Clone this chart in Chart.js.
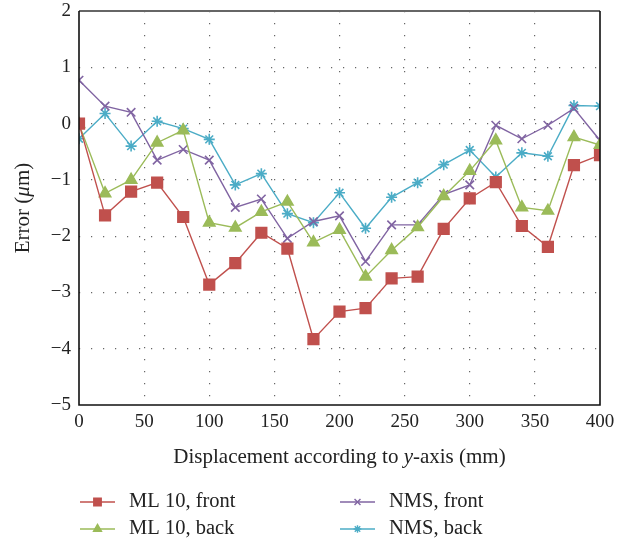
<!DOCTYPE html>
<html>
<head>
<meta charset="utf-8">
<script src="https://cdn.jsdelivr.net/npm/chart.js@4"></script>
<style>
  body { margin: 0; background: #fff; }
  #wrap { width: 631px; height: 544px; }
</style>
</head>
<body>
<div id="wrap"><canvas id="chart" width="631" height="544"></canvas></div>
<script>
// x positions (mm)
const displacement = [0, 20, 40, 60, 80, 100, 120, 140, 160, 180, 200, 220, 240, 260, 280, 300, 320, 340, 360, 380, 400];

// errors (um)
const ml10Front = [0, -1.63, -1.21, -1.05, -1.66, -2.86, -2.48, -1.94, -2.22, -3.83, -3.34, -3.28, -2.75, -2.72, -1.87, -1.33, -1.04, -1.82, -2.19, -0.74, -0.56];
const ml10Back = [-0.01, -1.24, -1.0, -0.34, -0.12, -1.76, -1.85, -1.57, -1.39, -2.11, -1.89, -2.72, -2.25, -1.84, -1.29, -0.84, -0.3, -1.49, -1.55, -0.24, -0.38];
const nmsFront = [0.77, 0.31, 0.2, -0.65, -0.46, -0.65, -1.49, -1.34, -2.04, -1.74, -1.64, -2.45, -1.8, -1.8, -1.26, -1.09, -0.03, -0.27, -0.03, 0.27, -0.3];
const nmsBack = [-0.27, 0.18, -0.4, 0.04, -0.09, -0.28, -1.09, -0.89, -1.6, -1.76, -1.23, -1.86, -1.31, -1.05, -0.73, -0.47, -0.95, -0.52, -0.58, 0.32, 0.31];

const xTicks = [0, 50, 100, 150, 200, 250, 300, 350, 400];
const yTicks = [-5, -4, -3, -2, -1, 0, 1, 2];

const FONT = '"Liberation Serif", "DejaVu Serif", serif';

const series = [
  { label: 'ML 10, front', data: ml10Front, color: '#c0504d', style: 'rect', radius: 7.5 },
  { label: 'ML 10, back', data: ml10Back, color: '#9bbb59', style: 'triangle', radius: 6.5 },
  { label: 'NMS, front', data: nmsFront, color: '#8064a2', style: 'crossRot', radius: 6 },
  { label: 'NMS, back', data: nmsBack, color: '#4bacc6', style: 'star', radius: 5.5 }
];

const datasets = series.map(s => ({
  label: s.label,
  data: displacement.map((x, i) => ({ x: x, y: s.data[i] })),
  borderColor: s.color,
  backgroundColor: s.color,
  borderWidth: 1.4,
  pointStyle: s.style,
  pointRadius: s.radius,
  pointBorderWidth: 1.6,
  pointBackgroundColor: s.color,
  pointBorderColor: s.color,
  tension: 0
}));

// frame, axis titles and legend
const decorations = {
  id: 'decorations',
  afterDraw(chart) {
    const ctx = chart.ctx;
    const a = chart.chartArea;
    ctx.save();

    // frame
    ctx.lineWidth = 2;
    ctx.strokeStyle = '#666';
    ctx.beginPath();
    ctx.moveTo(a.left, a.top);
    ctx.lineTo(a.right, a.top);
    ctx.stroke();
    ctx.strokeStyle = '#111';
    ctx.lineWidth = 1.6;
    ctx.beginPath();
    ctx.moveTo(a.right, a.top);
    ctx.lineTo(a.right, a.bottom);
    ctx.lineTo(a.left, a.bottom);
    ctx.lineTo(a.left, a.top);
    ctx.stroke();

    ctx.fillStyle = '#222';
    ctx.textBaseline = 'middle';

    // x title with italic y
    const parts = [
      { t: 'Displacement according to ', f: '21px ' + FONT },
      { t: 'y', f: 'italic 21px ' + FONT },
      { t: '-axis (mm)', f: '21px ' + FONT }
    ];
    let total = 0;
    parts.forEach(p => { ctx.font = p.f; p.w = ctx.measureText(p.t).width; total += p.w; });
    let x = (a.left + a.right) / 2 - total / 2;
    ctx.textAlign = 'left';
    parts.forEach(p => { ctx.font = p.f; ctx.fillText(p.t, x, 457); x += p.w; });

    // y title with italic mu
    ctx.save();
    ctx.translate(23, (a.top + a.bottom) / 2);
    ctx.rotate(-Math.PI / 2);
    const yp = [
      { t: 'Error (', f: '21px ' + FONT },
      { t: 'μ', f: 'italic 21px ' + FONT },
      { t: 'm)', f: '21px ' + FONT }
    ];
    total = 0;
    yp.forEach(p => { ctx.font = p.f; p.w = ctx.measureText(p.t).width; total += p.w; });
    x = -total / 2;
    yp.forEach(p => { ctx.font = p.f; ctx.fillText(p.t, x, 0); x += p.w; });
    ctx.restore();

    // legend
    const spots = [
      { lx: 80, y: 502 }, { lx: 80, y: 529 },
      { lx: 340, y: 502 }, { lx: 340, y: 529 }
    ];
    ctx.font = '20.5px ' + FONT;
    series.forEach((s, i) => {
      const p = spots[i];
      ctx.strokeStyle = s.color;
      ctx.lineWidth = 1.4;
      ctx.beginPath();
      ctx.moveTo(p.lx, p.y);
      ctx.lineTo(p.lx + 35, p.y);
      ctx.stroke();
      ctx.lineWidth = 1.4;
      ctx.fillStyle = s.color;
      Chart.helpers.drawPoint(ctx, { pointStyle: s.style, radius: s.radius * 0.7, rotation: 0, borderWidth: 1.4 }, p.lx + 17.5, p.y);
      ctx.fillStyle = '#222';
      ctx.fillText(s.label, p.lx + 49, p.y);
    });

    ctx.restore();
  }
};

new Chart(document.getElementById('chart'), {
  type: 'line',
  data: { datasets: datasets },
  options: {
    responsive: false,
    animation: false,
    layout: { padding: { top: 11, right: 31, left: 0, bottom: 0 } },
    plugins: { legend: { display: false }, tooltip: { enabled: false } },
    scales: {
      x: {
        type: 'linear',
        min: 0,
        max: 400,
        afterBuildTicks: axis => { axis.ticks = xTicks.map(v => ({ value: v })); },
        afterFit: axis => { axis.height = 139; axis.paddingLeft = 0; axis.paddingRight = 0; },
        ticks: { padding: 6, color: '#222', font: { family: FONT, size: 19 }, maxRotation: 0 },
        grid: {
          drawTicks: false,
          color: c => (c.tick.value === 0 || c.tick.value === 400) ? 'rgba(0,0,0,0)' : '#666',
          lineWidth: 1.2
        },
        border: { display: false, dash: [1.2, 10.8] }
      },
      y: {
        min: -5,
        max: 2,
        afterBuildTicks: axis => { axis.ticks = yTicks.map(v => ({ value: v })); },
        afterFit: axis => { axis.width = 79; axis.paddingTop = 0; axis.paddingBottom = 0; },
        ticks: {
          padding: 8,
          color: '#222',
          font: { family: FONT, size: 19 },
          callback: v => String(v).replace('-', '\u2212')
        },
        grid: {
          drawTicks: false,
          color: c => (c.tick.value === -5 || c.tick.value === 2) ? 'rgba(0,0,0,0)' : '#666',
          lineWidth: 1.2
        },
        border: { display: false, dash: [1.2, 10.8] }
      }
    }
  },
  plugins: [decorations]
});
</script>
</body>
</html>
